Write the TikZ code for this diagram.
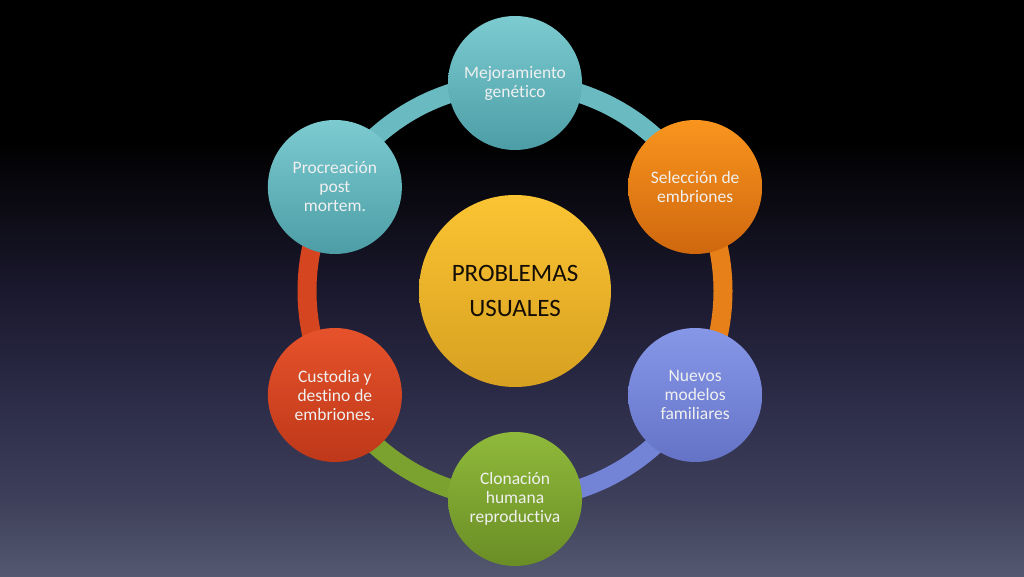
\documentclass[tikz,border=0pt]{standalone}
\usepackage{fontspec}
\setmainfont{Carlito}[Ligatures={NoCommon,TeX}]
\begin{document}
\begin{tikzpicture}[x=1pt,y=1pt,
  bubble/.style={circle, minimum size=134pt, inner sep=0pt, text=white!94!black, align=center, font=\fontsize{17.5}{19}\selectfont},
  ringarc/.style={line width=19pt},
  hub/.style={circle, minimum size=192pt, inner sep=0pt, align=center, text=black!90!brown, font=\fontsize{25}{35}\selectfont}]
\definecolor{tealT}{HTML}{7CCBD1}\definecolor{tealB}{HTML}{4C9DA5}\definecolor{tealA}{HTML}{6ABAC1}
\definecolor{orT}{HTML}{F9951E}\definecolor{orB}{HTML}{CF670E}\definecolor{orA}{HTML}{E8801A}
\definecolor{blT}{HTML}{8797E8}\definecolor{blB}{HTML}{6473C6}\definecolor{blA}{HTML}{7383D6}
\definecolor{grT}{HTML}{8FBA3B}\definecolor{grB}{HTML}{6A8D25}\definecolor{grA}{HTML}{7BA12E}
\definecolor{rdT}{HTML}{E6522B}\definecolor{rdB}{HTML}{BE3819}\definecolor{rdA}{HTML}{D5451F}
\definecolor{ylT}{HTML}{FBC433}\definecolor{ylB}{HTML}{D7A020}
\definecolor{bg1}{HTML}{1C1A30}\definecolor{bg2}{HTML}{2C2C48}\definecolor{bg3}{HTML}{3E3F5A}\definecolor{bg4}{HTML}{535970}
% background
\useasboundingbox (0,0) rectangle (1024,576);
\fill[black] (0,436) rectangle (1024,576);
\shade[top color=black, bottom color=bg1] (0,276) rectangle (1024,436.5);
\shade[top color=bg1, bottom color=bg2] (0,176) rectangle (1024,276.5);
\shade[top color=bg2, bottom color=bg3] (0,76) rectangle (1024,176.5);
\shade[top color=bg3, bottom color=bg4] (0,0) rectangle (1024,76.5);
\coordinate (c) at (515,285);
% ring arcs
\draw[ringarc, tealA] ([shift={(90:208)}]c) arc (90:30:208);
\draw[ringarc, orA] ([shift={(30:208)}]c) arc (30:-30:208);
\draw[ringarc, blA] ([shift={(-30:208)}]c) arc (-30:-90:208);
\draw[ringarc, grA] ([shift={(-90:208)}]c) arc (-90:-150:208);
\draw[ringarc, rdA] ([shift={(210:208)}]c) arc (210:150:208);
\draw[ringarc, tealA] ([shift={(150:208)}]c) arc (150:90:208);
% circles
\node[hub, top color=ylT, bottom color=ylB] (hub) at (c) {PROBLEMAS\\USUALES};
\node[bubble, top color=tealT, bottom color=tealB] (n1) at ([shift={(90:208)}]c) {Mejoramiento\\genético};
\node[bubble, top color=orT, bottom color=orB] (n2) at ([shift={(30:208)}]c) {Selección de\\embriones};
\node[bubble, top color=blT, bottom color=blB] (n3) at ([shift={(-30:208)}]c) {Nuevos\\modelos\\familiares};
\node[bubble, top color=grT, bottom color=grB] (n4) at ([shift={(-90:208)}]c) {Clonación\\humana\\reproductiva};
\node[bubble, top color=rdT, bottom color=rdB] (n5) at ([shift={(210:208)}]c) {Custodia y\\destino de\\embriones.};
\node[bubble, top color=tealT, bottom color=tealB] (n6) at ([shift={(150:208)}]c) {Procreación\\post\\mortem.};
\end{tikzpicture}
\end{document}
